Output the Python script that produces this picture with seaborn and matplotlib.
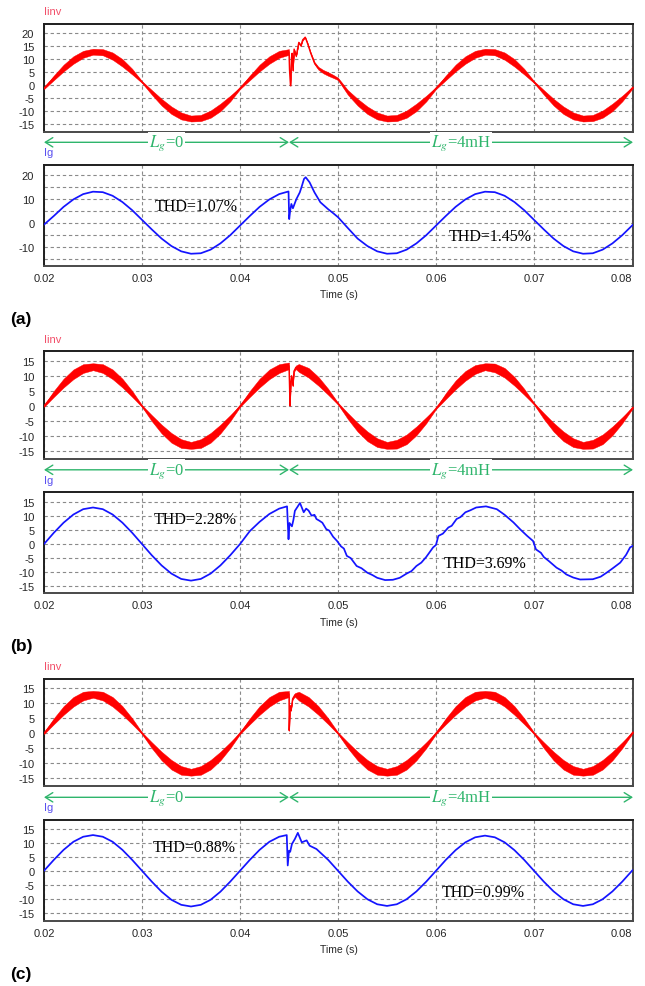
import numpy as np
import pandas as pd
import seaborn as sns
import matplotlib
matplotlib.use("Agg")
import matplotlib.pyplot as plt
from matplotlib.transforms import blended_transform_factory

# ---------------------------------------------------------------- data
x_ticks = [0.02, 0.03, 0.04, 0.05, 0.06, 0.07, 0.08]
x_tick_labels = ["0.02", "0.03", "0.04", "0.05", "0.06", "0.07", "0.08"]
t_switch = 0.045
t_start, t_end = 0.02, 0.0801
lg_labels = [r"$L_g$=0", r"$L_g$=4mH"]
panel_names = ["(a)", "(b)", "(c)"]
thd_left = ["THD=1.07%", "THD=2.28%", "THD=0.88%"]
thd_right = ["THD=1.45%", "THD=3.69%", "THD=0.99%"]

# ---- panel (a) inverter current (band centre, ripple half width)
t_inv_a = [0.020, 0.021, 0.022, 0.023, 0.024, 0.025, 0.026, 0.027, 0.028, 0.029,
           0.030, 0.031, 0.032, 0.033, 0.034, 0.035, 0.036, 0.037, 0.038, 0.039,
           0.040, 0.041, 0.042, 0.043, 0.044, 0.045,
           0.04505, 0.04515, 0.04525, 0.04532, 0.04540, 0.04552, 0.04573, 0.04600, 0.04620, 0.04640,
           0.04665, 0.04690, 0.04720, 0.04760, 0.04800, 0.04850, 0.04900, 0.04950, 0.05000,
           0.051, 0.052, 0.053, 0.054, 0.055, 0.056, 0.057, 0.058, 0.059, 0.060,
           0.061, 0.062, 0.063, 0.064, 0.065, 0.066, 0.067, 0.068, 0.069, 0.070,
           0.071, 0.072, 0.073, 0.074, 0.075, 0.076, 0.077, 0.078, 0.079, 0.080, 0.0801]
i_inv_a = [-1.2, 2.8, 6.6, 9.7, 11.9, 12.9, 12.7, 11.2, 8.6, 5.2,
           1.2, -2.8, -6.6, -9.7, -11.9, -12.9, -12.7, -11.2, -8.6, -5.2,
           -1.2, 2.8, 6.6, 9.7, 11.9, 12.8,
           6.0, -0.2, 10.5, 12.3, 5.6, 13.9, 11.2, 16.5, 15.2, 17.5,
           18.5, 16.0, 12.5, 8.5, 6.5, 5.2, 4.3, 3.4, 2.4,
           -2.8, -6.6, -9.7, -11.9, -12.9, -12.7, -11.2, -8.6, -5.2, -1.2,
           2.8, 6.6, 9.7, 11.9, 12.9, 12.7, 11.2, 8.6, 5.2, 1.2,
           -2.8, -6.6, -9.7, -11.9, -12.9, -12.7, -11.2, -8.6, -5.2, -1.2, -0.8]
rip_inv_a = [0.35, 0.9, 1.3, 1.45, 1.35, 1.15, 1.2, 1.4, 1.45, 1.1,
             0.35, 0.9, 1.3, 1.45, 1.35, 1.15, 1.2, 1.4, 1.45, 1.1,
             0.35, 0.9, 1.3, 1.45, 1.35, 1.1,
             0.2, 0.2, 0.2, 0.2, 0.2, 0.2, 0.2, 0.2, 0.2, 0.2,
             0.25, 0.3, 0.35, 0.45, 0.55, 0.65, 0.7, 0.6, 0.45,
             0.9, 1.3, 1.45, 1.35, 1.15, 1.2, 1.4, 1.45, 1.1, 0.35,
             0.9, 1.3, 1.45, 1.35, 1.15, 1.2, 1.4, 1.45, 1.1, 0.35,
             0.9, 1.3, 1.45, 1.35, 1.15, 1.2, 1.4, 1.45, 1.1, 0.35, 0.35]

# ---- panel (a) grid current
t_g_a = [0.020, 0.021, 0.022, 0.023, 0.024, 0.025, 0.026, 0.027, 0.028, 0.029,
         0.030, 0.031, 0.032, 0.033, 0.034, 0.035, 0.036, 0.037, 0.038, 0.039,
         0.040, 0.041, 0.042, 0.043, 0.044,
         0.04495, 0.04502, 0.04512, 0.04524, 0.04540, 0.04575, 0.04610, 0.04630, 0.04653, 0.04670,
         0.04710, 0.04760, 0.04820, 0.04900, 0.04950, 0.05000,
         0.051, 0.052, 0.053, 0.054, 0.055, 0.056, 0.057, 0.058, 0.059, 0.060,
         0.061, 0.062, 0.063, 0.064, 0.065, 0.066, 0.067, 0.068, 0.069, 0.070,
         0.071, 0.072, 0.073, 0.074, 0.075, 0.076, 0.077, 0.078, 0.079, 0.080, 0.0801]
i_g_a = [-0.8, 2.8, 6.6, 9.7, 11.9, 12.9, 12.7, 11.2, 8.6, 5.2,
         1.2, -2.8, -6.6, -9.7, -11.9, -12.9, -12.7, -11.2, -8.6, -5.2,
         -1.2, 2.8, 6.6, 9.7, 11.9,
         13.0, 1.5, 5.0, 7.8, 6.0, 9.8, 12.6, 15.1, 18.2, 18.9,
         16.8, 12.6, 8.5, 5.6, 4.0, 2.3,
         -2.2, -6.6, -9.7, -11.9, -12.9, -12.7, -11.2, -8.6, -5.2, -1.2,
         2.8, 6.6, 9.7, 11.9, 12.9, 12.7, 11.2, 8.6, 5.2, 1.2,
         -2.8, -6.6, -9.7, -11.9, -12.9, -12.7, -11.2, -8.6, -5.2, -1.2, -0.8]

# ---- panel (b) inverter current
t_inv_b = [0.020, 0.021, 0.022, 0.023, 0.024, 0.025, 0.026, 0.027, 0.028, 0.029,
           0.030, 0.031, 0.032, 0.033, 0.034, 0.035, 0.036, 0.037, 0.038, 0.039,
           0.040, 0.041, 0.042, 0.043, 0.044, 0.045,
           0.04505, 0.04510, 0.04518, 0.04525, 0.04540, 0.04550, 0.04570,
           0.046, 0.047, 0.048, 0.049, 0.050,
           0.051, 0.052, 0.053, 0.054, 0.055, 0.056, 0.057, 0.058, 0.059, 0.060,
           0.061, 0.062, 0.063, 0.064, 0.065, 0.066, 0.067, 0.068, 0.069, 0.070,
           0.071, 0.072, 0.073, 0.074, 0.075, 0.076, 0.077, 0.078, 0.079, 0.080, 0.0801]
i_inv_b = [0.0, 4.0, 7.6, 10.5, 12.4, 13.0, 12.4, 10.5, 7.6, 4.0,
           0.0, -4.0, -7.6, -10.5, -12.4, -13.0, -12.4, -10.5, -7.6, -4.0,
           0.0, 4.0, 7.6, 10.5, 12.4, 13.3,
           7.0, 0.1, 8.0, 10.0, 6.7, 11.5, 12.8,
           12.6, 11.0, 8.2, 4.7, 0.8,
           -3.3, -7.0, -10.0, -12.1, -13.0, -12.6, -11.0, -8.2, -4.7, -0.8,
           3.3, 7.0, 10.0, 12.1, 13.0, 12.6, 11.0, 8.2, 4.7, 0.8,
           -3.3, -7.0, -10.0, -12.1, -13.0, -12.6, -11.0, -8.2, -4.7, -0.8, -0.4]
rip_inv_b = [0.3, 1.0, 1.45, 1.6, 1.45, 1.15, 1.45, 1.6, 1.45, 1.0,
             0.3, 1.0, 1.45, 1.6, 1.45, 1.15, 1.45, 1.6, 1.45, 1.0,
             0.3, 1.0, 1.45, 1.6, 1.45, 1.1,
             0.2, 0.2, 0.2, 0.2, 0.2, 0.2, 0.6,
             1.3, 1.6, 1.45, 1.0, 0.3,
             1.0, 1.45, 1.6, 1.45, 1.15, 1.45, 1.6, 1.45, 1.0, 0.2,
             1.0, 1.45, 1.6, 1.45, 1.15, 1.45, 1.6, 1.45, 1.0, 0.3,
             1.0, 1.45, 1.6, 1.45, 1.15, 1.45, 1.6, 1.45, 1.0, 0.3, 0.3]

# ---- panel (b) grid current
t_g_b = [0.020, 0.021, 0.022, 0.023, 0.024, 0.025, 0.026, 0.027, 0.028, 0.029,
         0.030, 0.031, 0.032, 0.033, 0.034, 0.035, 0.036, 0.037, 0.038, 0.039,
         0.040, 0.041, 0.042, 0.043, 0.044,
         0.04480, 0.04495, 0.04505, 0.04530, 0.04545, 0.04560, 0.04612, 0.04650, 0.04675, 0.04700,
         0.04730, 0.04760, 0.04780, 0.04810, 0.04840, 0.04880, 0.04910, 0.04950, 0.04990, 0.05030,
         0.05060, 0.05090, 0.05130, 0.05190, 0.05240, 0.05300, 0.05350, 0.05400, 0.05480, 0.05560,
         0.05630, 0.05700, 0.05750, 0.05800, 0.05850, 0.05900, 0.05970, 0.06000, 0.06024, 0.06070,
         0.06126, 0.06160, 0.06210, 0.06250, 0.06300, 0.06350, 0.06410, 0.06510, 0.06620, 0.06700,
         0.06790, 0.06860, 0.06930, 0.06990, 0.07020, 0.07070, 0.07100, 0.07150, 0.07230, 0.07280,
         0.07330, 0.07400, 0.07470, 0.07600, 0.07680, 0.07740, 0.07800, 0.07880, 0.07940, 0.07980,
         0.08010]
i_g_b = [0.0, 4.0, 7.6, 10.5, 12.4, 13.0, 12.4, 10.5, 7.6, 4.0,
         0.0, -4.0, -7.6, -10.5, -12.4, -13.0, -12.4, -10.5, -7.6, -4.0,
         0.0, 4.6, 7.9, 10.7, 12.6,
         13.4, 1.7, 7.5, 6.3, 8.6, 11.8, 14.6, 11.3, 12.6, 11.9,
         10.1, 10.4, 8.9, 8.3, 7.6, 5.3, 4.8, 2.6, 1.1, -0.8,
         -1.6, -4.2, -5.0, -7.8, -8.6, -10.2, -11.0, -12.0, -12.8, -12.7,
         -12.0, -10.5, -9.6, -7.8, -6.6, -4.6, -1.2, -0.3, 2.9, 3.7,
         5.9, 6.5, 8.9, 9.6, 11.3, 12.0, 13.0, 13.4, 12.4, 10.4,
         7.7, 5.2, 2.9, 1.1, -1.9, -3.1, -4.6, -6.0, -8.4, -9.4,
         -10.8, -11.9, -12.6, -12.5, -11.6, -10.2, -8.7, -6.6, -3.8, -1.2,
         -0.6]

# ---- panel (c) inverter current
t_inv_c = [0.020, 0.021, 0.022, 0.023, 0.024, 0.025, 0.026, 0.027, 0.028, 0.029,
           0.030, 0.031, 0.032, 0.033, 0.034, 0.035, 0.036, 0.037, 0.038, 0.039,
           0.040, 0.041, 0.042, 0.043, 0.044, 0.045,
           0.04502, 0.04510, 0.04520, 0.04537, 0.04560,
           0.046, 0.047, 0.048, 0.049, 0.050,
           0.051, 0.052, 0.053, 0.054, 0.055, 0.056, 0.057, 0.058, 0.059, 0.060,
           0.061, 0.062, 0.063, 0.064, 0.065, 0.066, 0.067, 0.068, 0.069, 0.070,
           0.071, 0.072, 0.073, 0.074, 0.075, 0.076, 0.077, 0.078, 0.079, 0.080, 0.0801]
i_inv_c = [0.0, 4.0, 7.6, 10.5, 12.4, 13.0, 12.4, 10.5, 7.6, 4.0,
           0.0, -4.0, -7.6, -10.5, -12.4, -13.0, -12.4, -10.5, -7.6, -4.0,
           0.0, 4.0, 7.6, 10.5, 12.4, 13.1,
           0.9, 9.2, 7.6, 11.5, 12.8,
           12.4, 10.5, 7.6, 4.0, 0.0,
           -4.0, -7.6, -10.5, -12.4, -13.0, -12.4, -10.5, -7.6, -4.0, 0.0,
           4.0, 7.6, 10.5, 12.4, 13.0, 12.4, 10.5, 7.6, 4.0, 0.0,
           -4.0, -7.6, -10.5, -12.4, -13.0, -12.4, -10.5, -7.6, -4.0, 0.0, 0.4]
rip_inv_c = [0.3, 1.0, 1.45, 1.6, 1.45, 1.15, 1.45, 1.6, 1.45, 1.0,
             0.3, 1.0, 1.45, 1.6, 1.45, 1.15, 1.45, 1.6, 1.45, 1.0,
             0.3, 1.0, 1.45, 1.6, 1.45, 1.0,
             0.2, 0.2, 0.2, 0.2, 0.6,
             1.45, 1.6, 1.45, 1.0, 0.3,
             1.0, 1.45, 1.6, 1.45, 1.15, 1.45, 1.6, 1.45, 1.0, 0.3,
             1.0, 1.45, 1.6, 1.45, 1.15, 1.45, 1.6, 1.45, 1.0, 0.3,
             1.0, 1.45, 1.6, 1.45, 1.15, 1.45, 1.6, 1.45, 1.0, 0.3, 0.3]

# ---- panel (c) grid current
t_g_c = [0.020, 0.021, 0.022, 0.023, 0.024, 0.025, 0.026, 0.027, 0.028, 0.029,
         0.030, 0.031, 0.032, 0.033, 0.034, 0.035, 0.036, 0.037, 0.038, 0.039,
         0.040, 0.041, 0.042, 0.043, 0.044,
         0.04477, 0.04487, 0.04500, 0.04512, 0.04530, 0.04560, 0.04590, 0.04630, 0.04680, 0.04710,
         0.04780, 0.049, 0.050,
         0.051, 0.052, 0.053, 0.054, 0.055, 0.056, 0.057, 0.058, 0.059, 0.060,
         0.061, 0.062, 0.063, 0.064, 0.065, 0.066, 0.067, 0.068, 0.069, 0.070,
         0.071, 0.072, 0.073, 0.074, 0.075, 0.076, 0.077, 0.078, 0.079, 0.080, 0.0801]
i_g_c = [0.0, 3.9, 7.5, 10.4, 12.2, 12.8, 12.2, 10.4, 7.5, 3.9,
         0.0, -3.9, -7.5, -10.4, -12.2, -12.8, -12.2, -10.4, -7.5, -3.9,
         0.0, 3.9, 7.5, 10.4, 12.2,
         12.8, 1.9, 7.2, 6.8, 9.6, 11.4, 13.6, 10.2, 10.9, 9.0,
         7.8, 3.9, 0.0,
         -3.9, -7.4, -10.2, -12.0, -12.6, -12.0, -10.2, -7.4, -3.9, 0.0,
         3.9, 7.4, 10.2, 12.0, 12.6, 12.0, 10.2, 7.4, 3.9, 0.0,
         -3.9, -7.4, -10.2, -12.0, -12.6, -12.0, -10.2, -7.4, -3.9, 0.0, 0.3]

# y-axis definitions
yticks_inv_a = [-15, -10, -5, 0, 5, 10, 15, 20]
ylabels_inv_a = ["-15", "-10", "-5", "0", "5", "10", "15", "20"]
yticks_g_a = [-15, -10, -5, 0, 5, 10, 15, 20]
ylabels_g_a = ["", "-10", "", "0", "", "10", "", "20"]
yticks_bc = [-15, -10, -5, 0, 5, 10, 15]
ylabels_bc = ["-15", "-10", "-5", "0", "5", "10", "15"]

# ---------------------------------------------------------------- style
sns.set_theme(style="white")
plt.rcParams["font.family"] = ["Liberation Sans", "DejaVu Sans"]
plt.rcParams["mathtext.fontset"] = "stix"

W, H = 645, 987
fig = plt.figure(figsize=(W / 100, H / 100), dpi=100)
fig.patch.set_facecolor("white")

RED = "#ff0000"
BLUE = "#1414ff"
GREEN = "#2fb56c"
GRID = "#8a8a8a"
LEFT, RIGHT = 44, 633


def px_axes(top, bottom):
    return fig.add_axes([LEFT / W, 1 - bottom / H, (RIGHT - LEFT) / W, (bottom - top) / H])


def style_axes(ax, ylim, yticks, ylabels, show_x):
    ax.set_xlim(t_start, t_end)
    ax.set_ylim(*ylim)
    ax.set_yticks(yticks)
    ax.set_yticklabels(ylabels)
    ax.set_xticks(x_ticks)
    if show_x:
        ax.set_xticklabels(x_tick_labels)
        ax.get_xticklabels()[-1].set_horizontalalignment("right")
    else:
        ax.set_xticklabels([])
    ax.tick_params(axis="both", length=0, labelsize=8, labelcolor="#262626")
    ax.tick_params(axis="y", pad=7)
    ax.tick_params(axis="x", pad=5)
    ax.grid(True, color=GRID, linestyle=(0, (3, 2.5)), linewidth=0.8)
    ax.set_axisbelow(True)
    for side, sp in ax.spines.items():
        sp.set_visible(True)
        sp.set_linewidth(1.4)
        sp.set_color("#1e1e1e" if side in ("top", "left") else "#4a4a4a")
    ax.set_xlabel("")
    ax.set_ylabel("")
    ax.set_facecolor("white")


panels = [
    dict(top=(25, 133), bot=(166, 267), ylim_top=(-18.1, 23.6), ylim_bot=(-18.0, 24.0),
         yt_top=(yticks_inv_a, ylabels_inv_a), yt_bot=(yticks_g_a, ylabels_g_a),
         t_inv=t_inv_a, i_inv=i_inv_a, rip=rip_inv_a, t_g=t_g_a, i_g=i_g_a,
         thd_pos=[(0.0355, 7.0), (0.0655, -5.7)], offset=0.0),
    dict(top=(352.3, 460), bot=(493.3, 594), ylim_top=(-17.5, 18.1), ylim_bot=(-17.4, 18.4),
         yt_top=(yticks_bc, ylabels_bc), yt_bot=(yticks_bc, ylabels_bc),
         t_inv=t_inv_b, i_inv=i_inv_b, rip=rip_inv_b, t_g=t_g_b, i_g=i_g_b,
         thd_pos=[(0.0354, 8.9), (0.0650, -6.6)], offset=327.5),
    dict(top=(680, 787), bot=(821, 922), ylim_top=(-17.6, 18.1), ylim_bot=(-18.0, 18.2),
         yt_top=(yticks_bc, ylabels_bc), yt_bot=(yticks_bc, ylabels_bc),
         t_inv=t_inv_c, i_inv=i_inv_c, rip=rip_inv_c, t_g=t_g_c, i_g=i_g_c,
         thd_pos=[(0.0353, 8.7), (0.0648, -7.5)], offset=655.0),
]

for k, p in enumerate(panels):
    off = p["offset"]
    ax1 = px_axes(*p["top"])
    ax2 = px_axes(*p["bot"])

    # inverter current: ripple band + centre trace
    df_inv = pd.DataFrame({"t": p["t_inv"], "i": p["i_inv"], "r": p["rip"]})
    ax1.fill_between(df_inv["t"], df_inv["i"] - df_inv["r"], df_inv["i"] + df_inv["r"],
                     color=RED, linewidth=0.3, edgecolor=RED, zorder=3)
    sns.lineplot(data=df_inv, x="t", y="i", ax=ax1, color=RED, linewidth=1.0,
                 estimator=None, sort=False, zorder=4)
    style_axes(ax1, p["ylim_top"], *p["yt_top"], show_x=False)

    # grid current
    df_g = pd.DataFrame({"t": p["t_g"], "i": p["i_g"]})
    sns.lineplot(data=df_g, x="t", y="i", ax=ax2, color=BLUE, linewidth=1.25,
                 estimator=None, sort=False, zorder=4)
    style_axes(ax2, p["ylim_bot"], *p["yt_bot"], show_x=True)

    # THD annotations
    for (tx, ty), s in zip(p["thd_pos"], [thd_left[k], thd_right[k]]):
        ax2.text(tx, ty, s, fontsize=11.5, family=["Liberation Serif", "DejaVu Serif"],
                 ha="center", va="center", color="black", zorder=5)

    # signal names
    fig.text(LEFT / W, 1 - (12.3 + off) / H, "Iinv", color="#f2506a", fontsize=8,
             ha="left", va="center")
    fig.text(LEFT / W, 1 - (153.3 + off) / H, "Ig", color="#5a50f0", fontsize=8,
             ha="left", va="center")

    # Lg arrows between the two plots
    tr = blended_transform_factory(ax2.transData, fig.transFigure)
    ya = 1 - (143.3 + off) / H
    for (x0, x1), lab in zip([(t_start, t_switch), (t_switch, t_end)], lg_labels):
        ax2.annotate("", xy=(x1, ya), xytext=(x0, ya), xycoords=tr, textcoords=tr,
                     annotation_clip=False,
                     arrowprops=dict(arrowstyle="<->,head_length=0.45,head_width=0.28",
                                     color=GREEN, lw=1.0, shrinkA=0, shrinkB=0))
        ax2.text((x0 + x1) / 2, ya, lab, transform=tr, color=GREEN, fontsize=12,
                 family=["Liberation Serif", "DejaVu Serif"], ha="center", va="center",
                 bbox=dict(boxstyle="square,pad=0.05", fc="white", ec="none"), zorder=6)

    # x-axis title and panel label
    fig.text((LEFT + RIGHT) / 2 / W, 1 - (295 + off) / H, "Time (s)", fontsize=7.5,
             color="#262626", ha="center", va="center")
    fig.text(10 / W, 1 - (319.5 + off) / H, panel_names[k], fontsize=12.5,
             fontweight="bold", ha="left", va="center", color="black")

fig.savefig("out.png", dpi=100, facecolor="white")
